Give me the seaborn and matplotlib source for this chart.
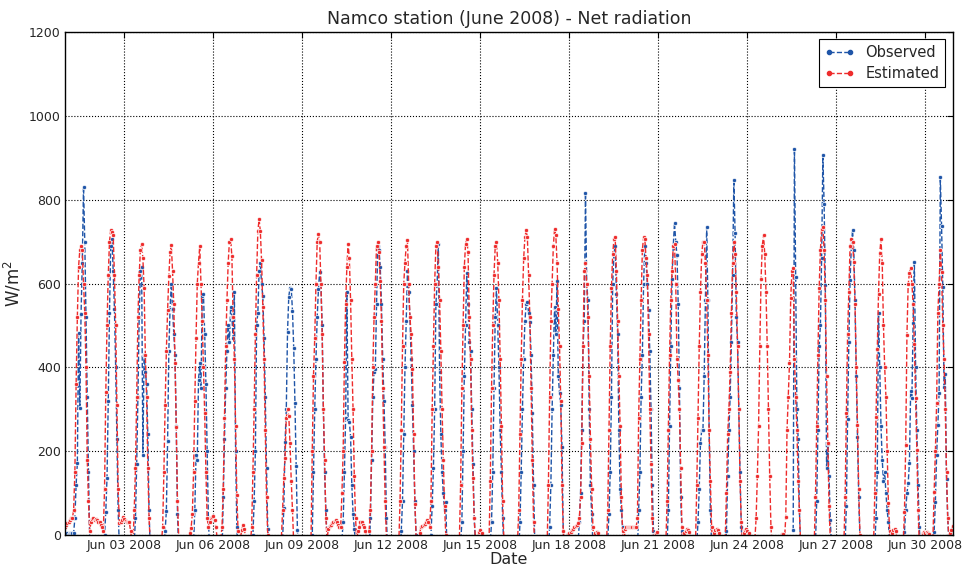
import numpy as np
import pandas as pd
import matplotlib
matplotlib.use("Agg")
import matplotlib.pyplot as plt
import matplotlib.dates as mdates
from matplotlib.lines import Line2D
import seaborn as sns

# Hourly net radiation (W/m2), one list per day of June 2008, hours 06..21
# None = no measurement
obs_day = [
    [5, 5, 40, 120, 171, 481, 302, 528, 650, 831, 700, 520, 330, 150, -10, -60],
    [-60, -40, 0, 55, 137, 320, 530, 690, 705, 630, 540, 400, 230, 60, -30, -60],
    [-60, -50, -20, 40, 170, 330, 520, 630, 640, 190, 430, 390, 360, 240, 60, -40],
    [-60, -60, -30, 10, 58, 224, 440, 540, 600, 540, 480, 430, 260, 50, -40, -60],
    [-60, -60, -20, 60, 190, 180, 370, 410, 350, 570, 575, 480, 360, 200, 40, -40],
    [-60, -50, 90, 230, 350, 440, 500, 460, 545, 520, 470, 580, 200, 20, -50, -60],
    [-60, -60, 0, 80, 200, 500, 530, 630, 648, 600, 570, 470, 330, 160, 15, -50],
    [-60, -60, -10, 64, 221, 300, 485, 568, 590, 588, 535, 447, 315, 164, 12, -50],
    [-60, -60, 0, 150, 300, 420, 520, 586, 628, 600, 500, 300, 150, 60, -10, -60],
    [-60, -60, -10, 30, 150, 280, 580, 274, 270, 235, 120, 50, 15, -20, -60, -60],
    [-60, 40, 180, 330, 390, 395, 550, 690, 680, 640, 550, 420, 320, 210, 40, -40],
    [-60, -40, 10, 80, 240, 400, 510, 630, 580, 520, 420, 310, 200, 80, 0, -50],
    [-60, -50, 0, 70, 160, 300, 550, 600, 695, 390, 240, 150, 100, 60, 79, -40],
    [-60, -60, -20, 30, 200, 380, 500, 624, 550, 460, 440, 300, 170, 40, -20, -60],
    [-60, -60, -20, 30, 150, 350, 520, 590, 500, 400, 250, 150, 40, -30, -60, -60],
    [-60, -40, 30, 150, 300, 420, 510, 550, 556, 530, 509, 430, 290, 120, -20, -60],
    [-60, -40, 20, 120, 300, 430, 544, 480, 605, 380, 338, 310, 210, 10, -40, -60],
    [-60, -20, 30, 100, 250, 450, 510, 816, 600, 560, 300, 120, 50, -20, -60, -60],
    [-60, -10, 50, 150, 330, 600, 670, 689, 574, 480, 250, 110, 60, 20, -40, -60],
    [-60, -40, 60, 150, 330, 430, 600, 690, 650, 600, 536, 439, 300, 120, 10, -40],
    [-60, -20, 60, 260, 450, 610, 690, 745, 700, 667, 550, 350, 90, 10, -40, -60],
    [-60, -20, 30, 110, 220, 250, 250, 380, 560, 735, 560, 250, 60, -20, -60, -60],
    [-60, 10, 140, 250, 330, 460, 620, 848, 720, 520, 460, 300, 150, 20, -40, -60],
    None,
    [None, None, None, None, None, None, None, 12, 920, 615, 300, 230, 60, -30, -60, -60],
    [-60, -20, 80, 250, 450, 500, 660, 906, 790, 596, 160, 217, 140, 36, -30, -60],
    [-60, -20, 70, 276, 461, 608, 687, 727, 680, 560, 380, 234, 90, -10, -60, -60],
    [-60, -20, 40, 150, 530, 400, 260, 180, 130, 150, 100, 60, 30, -20, -60, -60],
    [-60, 8, 60, 100, 123, 172, 344, 326, 506, 652, 401, 250, 119, 20, -40, -60],
    [-60, 8, 79, 191, 262, 338, 853, 737, 592, 354, 385, 133, 40, -20, -5, 0],
]

est_day = [
    [40, 60, 150, 360, 520, 640, 680, 690, 680, 600, 530, 400, 180, 80, 10, 30],
    [20, 10, 110, 340, 500, 620, 700, 728, 723, 715, 620, 500, 310, 110, 28, 30],
    [-10, -20, 60, 160, 330, 520, 620, 680, 695, 660, 590, 430, 330, 160, 40, -20],
    [-20, 20, 150, 310, 440, 536, 617, 675, 691, 630, 550, 410, 257, 80, -5, -40],
    [16, 50, 150, 320, 470, 600, 650, 689, 600, 510, 400, 290, 150, 40, 20, 30],
    [-10, 20, 110, 280, 450, 560, 650, 700, 705, 665, 520, 420, 260, 95, 10, -10],
    [-20, 20, 150, 300, 480, 620, 725, 753, 725, 655, 545, 420, 250, 90, 0, -40],
    [-40, -10, 60, 136, 184, 280, 300, 285, 220, 130, 60, -20, -40, -40, -40, -40],
    [-40, -10, 200, 380, 470, 600, 700, 718, 700, 600, 480, 300, 180, 40, -10, 15],
    [20, 20, 100, 200, 413, 550, 640, 695, 660, 560, 420, 300, 140, 40, -10, 10],
    [10, 60, 200, 400, 520, 600, 690, 699, 675, 605, 510, 350, 210, 80, -10, -40],
    [-20, 80, 250, 450, 600, 650, 690, 703, 600, 520, 480, 395, 240, 75, -5, -30],
    [30, 20, 80, 300, 450, 600, 690, 699, 640, 560, 440, 300, 180, 70, 0, -40],
    [-40, -10, 120, 350, 500, 640, 695, 705, 675, 520, 420, 250, 135, 40, -10, -20],
    [-30, -10, 130, 350, 500, 620, 690, 700, 650, 560, 420, 260, 80, -10, -40, -40],
    [-20, 60, 240, 420, 560, 660, 710, 727, 710, 620, 520, 350, 180, 30, -20, -40],
    [-20, 120, 330, 510, 600, 690, 730, 715, 650, 540, 450, 320, 120, 10, -30, -10],
    [25, 28, 40, 90, 220, 450, 630, 648, 600, 520, 380, 230, 110, 20, -20, 5],
    [-20, 60, 250, 450, 590, 670, 705, 710, 630, 510, 380, 260, 90, 10, -30, 15],
    [20, 40, 280, 420, 560, 680, 711, 705, 660, 620, 480, 300, 170, 40, -20, -10],
    [-20, 80, 250, 430, 560, 630, 690, 695, 600, 420, 370, 300, 160, 20, -30, 5],
    [-20, 120, 280, 450, 580, 670, 700, 700, 650, 560, 430, 250, 130, 20, -30, 5],
    [-10, 100, 240, 300, 390, 530, 650, 700, 670, 580, 450, 300, 130, 30, -20, 5],
    [-10, 40, 140, 260, 450, 610, 690, 715, 670, 580, 450, 300, 140, 20, -30, -40],
    [-10, 44, 250, 330, 410, 565, 631, 636, 420, 330, 250, 130, 60, -20, -40, -40],
    [-20, 90, 260, 430, 590, 680, 730, 735, 680, 560, 380, 220, 70, -10, -40, -40],
    [-20, 90, 290, 480, 580, 689, 705, 700, 652, 551, 400, 262, 110, 0, -30, -40],
    [-20, 100, 282, 443, 575, 673, 705, 650, 500, 400, 330, 201, 77, 10, -30, 5],
    [-20, 56, 215, 477, 598, 625, 636, 600, 551, 455, 326, 203, 60, -20, -40, -10],
    [-10, 103, 200, 314, 530, 600, 681, 628, 500, 420, 300, 150, 40, -10, 5, 12],
]

# night values, hours 22, 23, 00 .. 05 following day n (0 = night before June 1)
obs_night = {
    0: [None, None, 0, 2, 4, 3, 5, 5],
}
est_night = {
    0: [None, None, 20, 25, 28, 30, 36, 40],
    1: [38, 40, 36, 38, 35, 32, 30, 25],
    2: [35, 42, 38, 34, 32, 30, 32, 10],
    4: [None, None, None, None, None, None, None, 5],
    5: [40, 44, 45, 35, 20, -5, None, None],
    6: [-5, 12, 24, 15, -5, None, None, None],
    9: [22, 25, 28, 30, 33, 35, 30, 25],
    10: [20, 30, 30, 25, 18, 10, -5, None],
    12: [-10, 5, 20, 22, 24, 26, 30, 35],
    14: [-5, 8, 12, 5, -10, None, None, None],
    17: [-5, 2, 4, 8, 12, 15, 18, 22],
    18: [8, 6, -5, None, None, None, None, None],
    19: [18, 20, 20, 18, 18, 20, 18, 18],
    20: [5, 8, -5, None, None, None, None, None],
    21: [10, 14, 12, 8, -5, None, None, None],
    22: [12, 15, 12, 5, -5, None, None, None],
    23: [12, 14, 10, 5, -5, None, None, None],
    24: [None, None, None, None, None, -5, 2, 3],
    28: [12, 15, 10, -5, None, None, None, None],
    29: [5, 8, 6, 8, 5, 3, -5, None],
    30: [22],
}

series_names = ["Observed", "Estimated"]
colors = {"Observed": "#1f55a8", "Estimated": "#ee2c2c"}

times = pd.date_range("2008-06-01 00:00", "2008-06-30 22:00", freq="h")


def build_series(day_lists, nights):
    vals = np.full(len(times), np.nan)
    for d, day in enumerate(day_lists):
        if day is None:
            continue
        for k, v in enumerate(day):
            if v is not None:
                vals[d * 24 + 6 + k] = v
    for n, night in nights.items():
        start = (n - 1) * 24 + 22
        for k, v in enumerate(night):
            i = start + k
            if v is not None and 0 <= i < len(vals):
                vals[i] = v
    return vals


frames = []
for name, days, nights in [("Observed", obs_day, obs_night),
                           ("Estimated", est_day, est_night)]:
    vals = build_series(days, nights)
    seg = np.cumsum(np.isnan(vals))
    part = pd.DataFrame({"time": times, "value": vals, "series": name, "seg": seg})
    frames.append(part.dropna())
df = pd.concat(frames, ignore_index=True)

sns.set_theme(style="white")
plt.rcParams["font.family"] = ["DejaVu Sans"]
plt.rcParams["xtick.direction"] = "in"
plt.rcParams["ytick.direction"] = "in"

fig = plt.figure(figsize=(9.67, 5.71), dpi=100)
ax = fig.add_axes([0.0672, 0.063, 0.918, 0.881])

sns.lineplot(data=df, x="time", y="value", hue="series", units="seg",
             estimator=None, hue_order=series_names, palette=colors,
             sort=False, legend=False, linestyle="--", linewidth=1.0,
             marker=".", markersize=6, markeredgewidth=0.5, ax=ax)

ax.set_xlim(times[0], times[-1])
ax.set_ylim(0, 1200)
ax.set_yticks(range(0, 1201, 200))
ax.xaxis.set_major_locator(mdates.DayLocator(bymonthday=range(3, 31, 3)))
ax.xaxis.set_major_formatter(mdates.DateFormatter("%b %d %Y"))
ax.tick_params(axis="both", which="both", direction="in", top=True, right=True,
               length=4, width=0.8, labelsize=9, color="black", pad=3)
ax.grid(True, color="black", linestyle=":", linewidth=0.8)
for sp in ax.spines.values():
    sp.set_color("black")
    sp.set_linewidth(1.0)

ax.set_title("Namco station (June 2008) - Net radiation", fontsize=12.5, pad=6)
ax.set_xlabel("Date", fontsize=11.5, labelpad=0)
ax.set_ylabel("W/m$^2$", fontsize=12)

handles = [Line2D([], [], color=colors[n], linestyle="--", marker=".",
                  markersize=6, linewidth=1.0) for n in series_names]
leg = ax.legend(handles, series_names, loc="upper right", fontsize=10.5,
                numpoints=2, handlelength=2.0, fancybox=False, framealpha=1,
                edgecolor="black", borderpad=0.4, labelspacing=0.4)
leg.get_frame().set_linewidth(0.8)

fig.savefig("out.png", dpi=100)
